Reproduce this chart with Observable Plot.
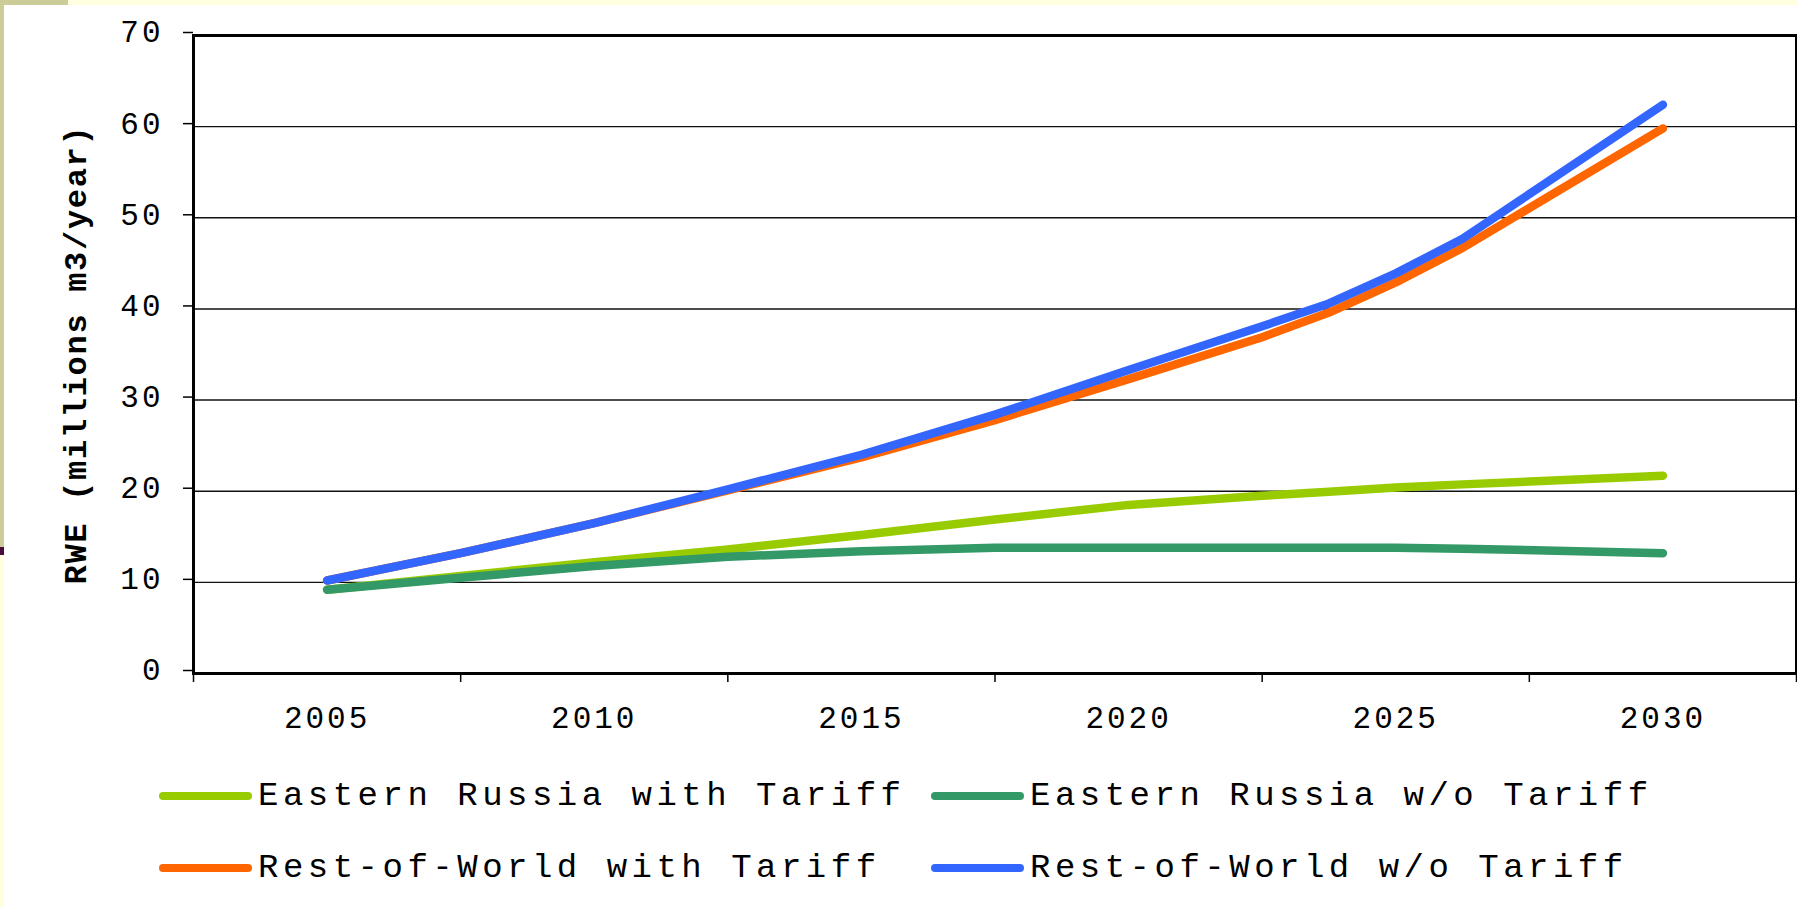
<!DOCTYPE html>
<html>
<head>
<meta charset="utf-8">
<script src="https://cdn.jsdelivr.net/npm/d3@7"></script>
<script src="https://cdn.jsdelivr.net/npm/@observablehq/plot@0.6"></script>
<style>
  html, body { margin: 0; padding: 0; background: #fff; }
  #page { position: relative; width: 1797px; height: 907px; overflow: hidden; background: #fff;
          font-family: "Liberation Mono", "Courier New", monospace; }
  #chart { position: absolute; left: 0; top: 0; }
  #chart g[aria-label="x-axis tick label"] text,
  #chart g[aria-label="y-axis tick label"] text { letter-spacing: 3px; }
  #chart g[aria-label="text"] text { letter-spacing: 1.7px; }
  .deco { position: absolute; z-index: 5; }
  .legend-item { position: absolute; display: flex; align-items: center; height: 40px; }
  .sw { width: 93px; height: 8px; border-radius: 4px; margin-right: 6px; flex: none; }
  .lt { font-size: 34px; letter-spacing: 4.5px; color: #000; white-space: pre; line-height: 40px; }
</style>
</head>
<body>
<div id="page">
  <div id="chart"></div>
  <div id="legend"></div>
  <div class="deco" style="left:68px;top:0;width:1729px;height:5px;background:#FFFFE0"></div>
  <div class="deco" style="left:0;top:0;width:68px;height:5px;background:#CCCC99"></div>
  <div class="deco" style="left:0;top:0;width:4px;height:547px;background:#CCCC99"></div>
  <div class="deco" style="left:0;top:547px;width:4px;height:8px;background:#4A0A3A"></div>
  <div class="deco" style="left:0;top:555px;width:4px;height:352px;background:#FFFFE0"></div>
</div>
<script>
// ---- data ----
const years = [2005, 2007.5, 2010, 2012.5, 2015, 2017.5, 2020, 2022.5, 2023.75, 2025, 2026.25, 2030];
const seriesNames = [
  "Eastern Russia with Tariff",
  "Eastern Russia w/o Tariff",
  "Rest-of-World with Tariff",
  "Rest-of-World w/o Tariff"
];
const seriesColors = ["#99CC00", "#339966", "#FF6600", "#3366FF"];
const eastWithTariff = [9.2, 10.7, 12.2, 13.6, 15.2, 16.9, 18.5, 19.5, 19.95, 20.4, 20.75, 21.7];
const eastNoTariff   = [9.2, 10.5, 11.8, 12.8, 13.4, 13.8, 13.8, 13.8, 13.8, 13.8, 13.7, 13.2];
const restWithTariff = [10.2, 13.2, 16.5, 20.1, 23.7, 27.8, 32.3, 36.9, 39.6, 42.9, 46.7, 59.8];
const restNoTariff   = [10.2, 13.2, 16.5, 20.2, 24.0, 28.4, 33.3, 38.1, 40.6, 43.9, 47.7, 62.4];
const yearLabels = [2005, 2010, 2015, 2020, 2025, 2030];
const categoryEdges = [2002.5, 2007.5, 2012.5, 2017.5, 2022.5, 2027.5, 2032.5];
const yTicks = [0, 10, 20, 30, 40, 50, 60, 70];
const gridValues = [10, 20, 30, 40, 50, 60];
const yTitle = "RWE (millions m3/year)";

// ---- build long table ----
const seriesValues = [eastWithTariff, eastNoTariff, restWithTariff, restNoTariff];
const rows = [];
seriesNames.forEach((name, i) => {
  years.forEach((yr, j) => rows.push({series: name, year: yr, value: seriesValues[i][j]}));
});

const font = '"Liberation Mono", "Courier New", monospace';
const chart = Plot.plot({
  width: 1797,
  height: 740,
  marginLeft: 193,
  marginRight: 1,
  marginTop: 35,
  marginBottom: 67,
  x: {domain: [categoryEdges[0], categoryEdges[categoryEdges.length - 1]]},
  y: {domain: [0, 70]},
  color: {domain: seriesNames, range: seriesColors},
  style: {fontFamily: font, fontSize: "31px", color: "#000", background: "transparent", overflow: "visible"},
  marks: [
    Plot.ruleY(gridValues, {stroke: "#111", strokeWidth: 1.4}),
    Plot.axisY({ticks: yTicks, tickSize: 10, tickPadding: 20, label: null, strokeWidth: 1.5, dy: -3, tickFormat: d => String(d)}),
    Plot.axisX({ticks: categoryEdges, tickSize: 9, label: null, strokeWidth: 1.5, tickFormat: () => ""}),
    Plot.axisX({ticks: yearLabels, tickSize: 0, tickPadding: 32, label: null, tickFormat: d => String(d)}),
    Plot.line(rows, {x: "year", y: "value", z: "series", stroke: "series", strokeWidth: 8.5,
                     strokeLinecap: "round", strokeLinejoin: "round"}),
    Plot.frame({stroke: "#000", strokeWidth: 3}),
    Plot.text([yTitle], {frameAnchor: "left", rotate: -90, dx: -118, textAnchor: "middle", lineAnchor: "middle",
                         fontWeight: "bold", fontSize: 32, fontFamily: font, fill: "#000"})
  ]
});
document.getElementById("chart").appendChild(chart);

// ---- legend (HTML, below the plot area) ----
const legendPos = [
  {left: 159, top: 776},
  {left: 931, top: 776},
  {left: 159, top: 848},
  {left: 931, top: 848}
];
const legend = document.getElementById("legend");
seriesNames.forEach((name, i) => {
  const item = document.createElement("div");
  item.className = "legend-item";
  item.style.left = legendPos[i].left + "px";
  item.style.top = legendPos[i].top + "px";
  const sw = document.createElement("span");
  sw.className = "sw";
  sw.style.background = seriesColors[i];
  const t = document.createElement("span");
  t.className = "lt";
  t.textContent = name;
  item.appendChild(sw);
  item.appendChild(t);
  legend.appendChild(item);
});
</script>
</body>
</html>
